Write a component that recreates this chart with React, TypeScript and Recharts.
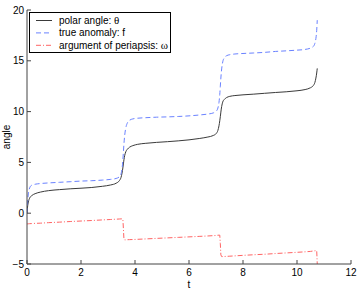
import React from 'react';
import { LineChart, Line, XAxis, YAxis, Legend } from 'recharts';

// time samples (denser around each periapsis passage)
const t = [
  0, 0.02, 0.05, 0.1, 0.17, 0.3, 0.5, 0.8, 1.2, 1.6, 2.0, 2.4, 2.8, 3.1, 3.3,
  3.42, 3.48, 3.52, 3.55, 3.57, 3.59, 3.62, 3.66, 3.72, 3.8, 3.92, 4.1, 4.4,
  4.8, 5.2, 5.6, 6.0, 6.4, 6.7, 6.9, 7.01, 7.07, 7.11, 7.14, 7.16, 7.18, 7.21,
  7.25, 7.31, 7.39, 7.51, 7.7, 8.0, 8.4, 8.8, 9.2, 9.6, 10.0, 10.3, 10.5, 10.6,
  10.66, 10.7, 10.73, 10.75,
];

const polarAngle = [
  0, 0.6, 1.1, 1.5, 1.72, 1.92, 2.08, 2.22, 2.32, 2.4, 2.46, 2.53, 2.65, 2.78, 2.95,
  3.2, 3.5, 3.95, 4.45, 4.85, 5.25, 5.7, 6.05, 6.3, 6.5, 6.65, 6.78, 6.88,
  6.97, 7.04, 7.12, 7.22, 7.36, 7.5, 7.65, 7.85, 8.15, 8.6, 9.1, 9.5, 9.95, 10.5,
  10.95, 11.2, 11.38, 11.5, 11.58, 11.65, 11.72, 11.8, 11.88, 11.95, 12.05, 12.17, 12.35, 12.55,
  12.85, 13.3, 13.8, 14.25,
];

const trueAnomaly = [
  0, 1.0, 1.9, 2.5, 2.75, 2.85, 2.92, 2.98, 3.04, 3.1, 3.16, 3.2, 3.26, 3.33, 3.42,
  3.58, 3.85, 4.4, 5.2, 6.0, 6.8, 7.7, 8.4, 8.9, 9.15, 9.28, 9.35, 9.4,
  9.45, 9.48, 9.52, 9.58, 9.67, 9.76, 9.87, 10.05, 10.35, 10.9, 11.7, 12.5, 13.3, 14.2,
  14.9, 15.3, 15.5, 15.6, 15.67, 15.72, 15.77, 15.83, 15.92, 15.98, 16.05, 16.12, 16.25, 16.4,
  16.7, 17.2, 18.0, 19.0,
];

const periapsisArg = [
  -1.05, -1.05, -1.04, -1.03, -1.02, -1.0, -0.98, -0.93, -0.88, -0.82, -0.77, -0.72, -0.66, -0.62, -0.59,
  -0.57, -0.56, -0.56, -0.58, -1.5, -2.55, -2.63, -2.62, -2.61, -2.6, -2.59, -2.57, -2.53,
  -2.48, -2.43, -2.38, -2.33, -2.28, -2.24, -2.21, -2.19, -2.17, -2.16, -2.16, -3.0, -4.1, -4.27,
  -4.27, -4.26, -4.25, -4.23, -4.2, -4.15, -4.09, -4.04, -3.97, -3.91, -3.85, -3.8, -3.76, -3.72,
  -3.7, -3.69, -3.68, -5.0,
];

const xTicks = [0, 2, 4, 6, 8, 10, 12];
const yTicks = [-5, 0, 5, 10, 15, 20];

const legendLabels = ['polar angle: ', 'true anomaly: f', 'argument of periapsis: '];
const legendSymbols = ['θ', '', 'ω'];
const lineColors = ['#3a3a3a', '#6a82ff', '#ff6464'];
const lineDashes = [undefined, '5 3', '5 2 1 2'];

const data = t.map((tt, i) => ({
  t: tt,
  theta: polarAngle[i],
  f: trueAnomaly[i],
  omega: periapsisArg[i],
}));

const FONT = '"Liberation Sans", Arial, Helvetica, sans-serif';
const AXIS = '#444';
const TICK_LEN = 4;

const BottomTick = (props: any) => {
  const { x, y, payload } = props;
  return (
    <g>
      <line x1={x} x2={x} y1={y} y2={y - TICK_LEN} stroke={AXIS} />
      <text x={x} y={y + 12} textAnchor="middle" fontSize={10} fontFamily={FONT} fill="#000">
        {payload.value}
      </text>
    </g>
  );
};

const TopTick = (props: any) => {
  const { x, y } = props;
  return <line x1={x} x2={x} y1={y} y2={y + TICK_LEN} stroke={AXIS} />;
};

const LeftTick = (props: any) => {
  const { x, y, payload } = props;
  return (
    <g>
      <line x1={x} x2={x + TICK_LEN} y1={y} y2={y} stroke={AXIS} />
      <text x={x - 3} y={y} dy="0.36em" textAnchor="end" fontSize={10} fontFamily={FONT} fill="#000">
        {payload.value === -5 ? '\u22125' : payload.value}
      </text>
    </g>
  );
};

const RightTick = (props: any) => {
  const { x, y } = props;
  return <line x1={x} x2={x - TICK_LEN} y1={y} y2={y} stroke={AXIS} />;
};

const XTitle = (props: any) => {
  const vb = props.viewBox;
  return (
    <text x={vb.x + vb.width / 2} y={vb.y + vb.height - 2} textAnchor="middle" fontSize={10} fontFamily={FONT} fill="#000">
      t
    </text>
  );
};

const YTitle = (props: any) => {
  const vb = props.viewBox;
  const cx = vb.x + 10;
  const cy = vb.y + vb.height / 2;
  return (
    <text x={cx} y={cy} transform={`rotate(-90, ${cx}, ${cy})`} textAnchor="middle" fontSize={10} fontFamily={FONT} fill="#000">
      angle
    </text>
  );
};

const LegendBox = () => (
  <svg width={142} height={41} style={{ display: 'block' }}>
    <rect x={0.5} y={0.5} width={141} height={40} fill="#fff" stroke="#000" />
    {legendLabels.map((label, i) => {
      const y = 8.5 + i * 12.4;
      return (
        <g key={label}>
          <line x1={7} x2={23} y1={y} y2={y} stroke={lineColors[i]} strokeDasharray={lineDashes[i]} />
          <text x={30} y={y} dy="0.35em" fontSize={10} fontFamily={FONT} fill="#000">
            {label}
            {legendSymbols[i] && (
              <tspan fontFamily='"Liberation Serif", "Times New Roman", serif' fontSize={11}>
                {legendSymbols[i]}
              </tspan>
            )}
          </text>
        </g>
      );
    })}
  </svg>
);

export default function App() {
  return (
    <div style={{ position: 'fixed', left: 0, top: 0, background: '#fff' }}>
      <LineChart width={360} height={290} data={data} margin={{ top: 10, right: 9, left: 0, bottom: 0 }}>
        <XAxis
          dataKey="t"
          type="number"
          domain={[0, 12]}
          ticks={xTicks}
          height={26}
          tickSize={0}
          tickMargin={0}
          tick={<BottomTick />}
          axisLine={{ stroke: AXIS }}
          tickLine={false}
          interval={0}
          allowDataOverflow
          label={<XTitle />}
        />
        <XAxis
          xAxisId="top"
          orientation="top"
          dataKey="t"
          type="number"
          domain={[0, 12]}
          ticks={xTicks}
          height={0}
          tickSize={0}
          tickMargin={0}
          tick={<TopTick />}
          axisLine={{ stroke: AXIS }}
          tickLine={false}
          interval={0}
          allowDataOverflow
        />
        <YAxis
          type="number"
          domain={[-5, 20]}
          ticks={yTicks}
          width={27}
          tickSize={0}
          tickMargin={0}
          tick={<LeftTick />}
          axisLine={{ stroke: AXIS }}
          tickLine={false}
          interval={0}
          allowDataOverflow
          label={<YTitle />}
        />
        <YAxis
          yAxisId="right"
          orientation="right"
          type="number"
          domain={[-5, 20]}
          ticks={yTicks}
          width={0}
          tickSize={0}
          tickMargin={0}
          tick={<RightTick />}
          axisLine={{ stroke: AXIS }}
          tickLine={false}
          interval={0}
          allowDataOverflow
        />
        <Legend
          layout="vertical"
          align="center"
          verticalAlign="middle"
          content={<LegendBox />}
          wrapperStyle={{ position: 'absolute', left: 29, top: 12, width: 142, height: 41 }}
        />
        <Line
          dataKey="theta"
          name="polar angle: θ"
          type="monotone"
          stroke={lineColors[0]}
          strokeWidth={1}
          dot={false}
          isAnimationActive={false}
        />
        <Line
          dataKey="f"
          name="true anomaly: f"
          type="monotone"
          stroke={lineColors[1]}
          strokeWidth={1}
          strokeDasharray={lineDashes[1]}
          dot={false}
          isAnimationActive={false}
        />
        <Line
          dataKey="omega"
          name="argument of periapsis: ω"
          type="linear"
          stroke={lineColors[2]}
          strokeWidth={1}
          strokeDasharray={lineDashes[2]}
          dot={false}
          isAnimationActive={false}
        />
      </LineChart>
    </div>
  );
}
